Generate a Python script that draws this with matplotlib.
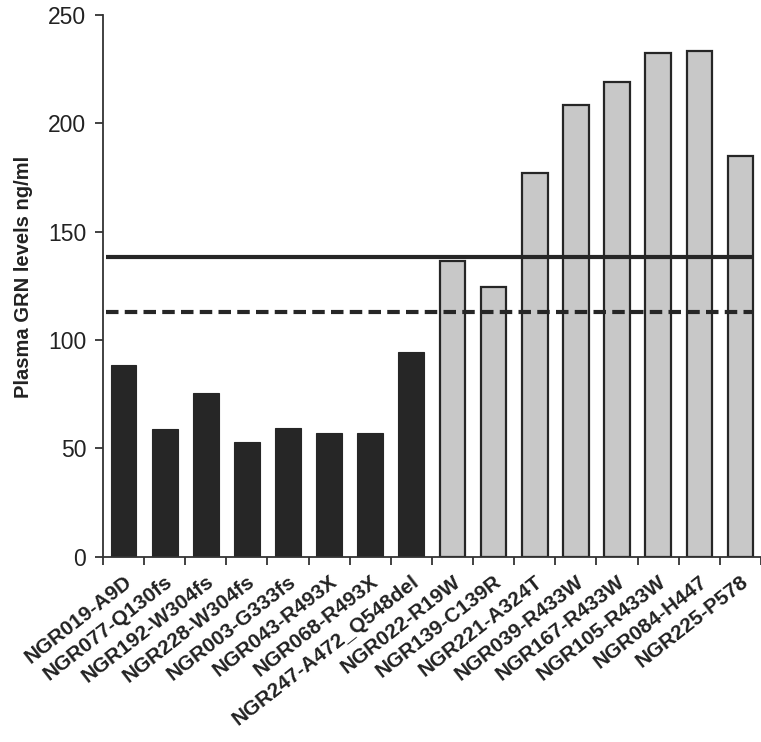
import matplotlib
matplotlib.use("Agg")
import matplotlib.pyplot as plt
import matplotlib.transforms as mtransforms
import numpy as np

plt.rcParams['font.family'] = ['Liberation Sans', 'DejaVu Sans']

# patients (truncating / null mutations first, then missense)
labels = ['NGR019-A9D', 'NGR077-Q130fs', 'NGR192-W304fs', 'NGR228-W304fs',
          'NGR003-G333fs', 'NGR043-R493X', 'NGR068-R493X', 'NGR247-A472_Q548del',
          'NGR022-R19W', 'NGR139-C139R', 'NGR221-A324T', 'NGR039-R433W',
          'NGR167-R433W', 'NGR105-R433W', 'NGR084-H447', 'NGR225-P578']
null_vals = [88.3, 58.8, 75.5, 53.0, 59.5, 57.1, 57.1, 94.3]
missense_vals = [136.3, 124.5, 177.1, 208.5, 219.0, 232.3, 233.3, 184.8]
cutoff_solid = 138.1
cutoff_dashed = 112.7

dark = '#262626'
light = '#c8c8c8'

fig = plt.figure(figsize=(7.61, 7.42), dpi=100)
ax = fig.add_axes([0.1353, 0.2497, 0.8647, 0.7305])

n1 = len(null_vals)
x1 = np.arange(n1)
x2 = np.arange(n1, n1 + len(missense_vals))
ax.bar(x1, null_vals, width=0.63, color=dark, edgecolor=dark, linewidth=0.8, zorder=2)
ax.bar(x2, missense_vals, width=0.62, color=light, edgecolor=dark, linewidth=1.6, zorder=2)

ax.hlines(cutoff_solid, -0.43, 15.28, colors=dark, linewidth=3.0, zorder=3)
ax.hlines(cutoff_dashed, -0.43, 15.28, colors=dark, linewidth=3.0,
          linestyles=(0, (3, 1.5)), zorder=3)

ax.set_xlim(-0.5, len(labels) - 0.5)
ax.set_ylim(0, 250)
ax.set_yticks(np.arange(0, 251, 50))

# ticks between categories, labels at the centres
ax.set_xticks(np.arange(-0.5, len(labels), 1.0))
ax.set_xticklabels([])
ax.set_xticks(np.arange(len(labels)), minor=True)
ax.set_xticklabels(labels, minor=True, rotation=38, ha='right', va='top',
                   rotation_mode='anchor', fontsize=15, fontweight='bold',
                   color='#222222')
off = mtransforms.ScaledTranslation(12 / 100, 0, fig.dpi_scale_trans)
for t in ax.xaxis.get_minorticklabels():
    t.set_transform(t.get_transform() + off)
ax.tick_params(axis='x', which='minor', length=0, pad=11)
ax.tick_params(axis='x', which='major', length=6, width=1.3, color='#333333', direction='out')
ax.tick_params(axis='y', length=6, width=1.3, color='#333333', direction='out',
               labelsize=16.5, labelcolor='#222222', pad=6)

for s in ['top', 'right']:
    ax.spines[s].set_visible(False)
for s in ['left', 'bottom']:
    ax.spines[s].set_linewidth(1.3)
    ax.spines[s].set_color('#333333')

ax.set_ylabel('Plasma GRN levels ng/ml', fontsize=14.5, fontweight='bold', color='#222222')
ax.yaxis.set_label_coords(-0.106, 0.516)

fig.savefig('out.png', dpi=100)
